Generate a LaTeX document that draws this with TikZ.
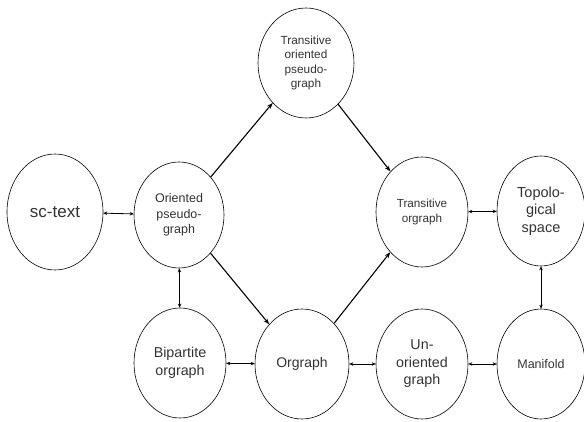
\documentclass[tikz,border=0pt]{standalone}
\usepackage{fontspec}
\setmainfont{Liberation Sans}
\usetikzlibrary{shapes.geometric, arrows.meta}

\newcommand{\fs}[1]{\fontsize{#1}{1.22\dimexpr#1pt\relax}\selectfont}

\begin{document}
\begin{tikzpicture}[x=1pt, y=-1pt,
  conceito/.style={draw, ellipse, line width=0.6pt, minimum width=92pt, minimum height=110pt, inner sep=0pt, align=center, text=black!80},
  seta/.style={-{Stealth[length=6pt, width=4.5pt]}, line width=1.1pt},
  dupla/.style={{Stealth[length=4pt, width=3.5pt]}-{Stealth[length=4pt, width=3.5pt]}, line width=0.8pt}]
  \useasboundingbox (0,0) rectangle (584,422);

  % Conceitos
  \node[conceito, minimum width=96pt, minimum height=116pt, font=\fs{17}] (sctext) at (55,212) {sc-text};
  \node[conceito, minimum width=90pt, minimum height=106pt, font=\fs{12.5}] (opg) at (179,215) {Oriented\\pseudo-\\graph};
  \node[conceito, minimum width=96pt, minimum height=110pt, font=\fs{11.8}] (topg) at (306,63) {Transitive\\oriented\\pseudo-\\graph};
  \node[conceito, font=\fs{11.7}] (torg) at (422,212) {Transitive\\orgraph};
  \node[conceito, minimum width=88pt, font=\fs{14.5}] (topo) at (541,211) {Topolo-\\gical\\space};
  \node[conceito, font=\fs{14.3}] (bip) at (180,363) {Bipartite\\orgraph};
  \node[conceito, minimum width=94pt, font=\fs{14}] (org) at (302,364) {Orgraph};
  \node[conceito, font=\fs{14.3}] (unor) at (422,364) {Un-\\oriented\\graph};
  \node[conceito, minimum width=88pt, font=\fs{12.5}] (manif) at (541,364) {Manifold};

  % Ligacoes
  \draw[dupla] (sctext) -- (opg);
  \draw[dupla] (opg) -- (bip);
  \draw[seta] (opg) -- (topg);
  \draw[seta] (opg) -- (org);
  \draw[seta] (topg) -- (torg);
  \draw[seta] (org) -- (torg);
  \draw[dupla] (torg) -- (topo);
  \draw[dupla] (topo) -- (manif);
  \draw[dupla] (bip) -- (org);
  \draw[dupla] (org) -- (unor);
  \draw[dupla] (unor) -- (manif);
\end{tikzpicture}
\end{document}
